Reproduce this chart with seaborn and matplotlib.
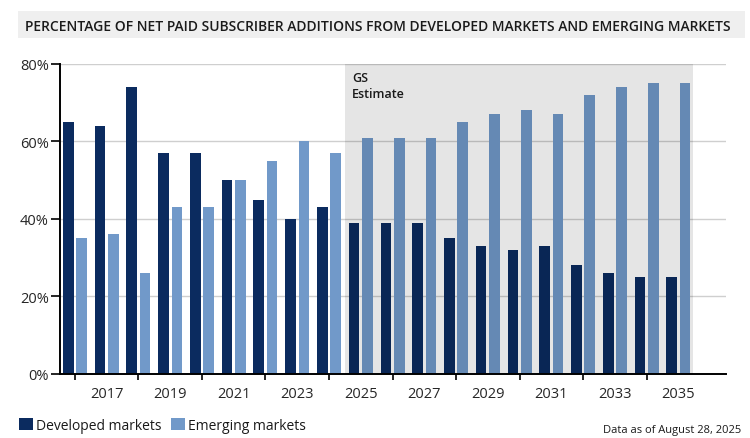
import numpy as np
import pandas as pd
import seaborn as sns
import matplotlib.pyplot as plt
from matplotlib.patches import Rectangle

# ── Data ───────────────────────────────────────────────────────────
years = [str(y) for y in range(2016, 2036)]
developed = [65, 64, 74, 57, 57, 50, 45, 40, 43, 39, 39, 39, 35, 33, 32, 33, 28, 26, 25, 25]
emerging = [35, 36, 26, 43, 43, 50, 55, 60, 57, 61, 61, 61, 65, 67, 68, 67, 72, 74, 75, 75]
series_names = ['Developed markets', 'Emerging markets']
estimate_start = '2025'

df = pd.DataFrame({
    'year': years * 2,
    'market': [series_names[0]] * len(years) + [series_names[1]] * len(years),
    'share': developed + emerging,
})

DARK = '#0b2b5f'
LIGHT = '#7199c9'

sns.set_theme(style='white')
plt.rcParams['font.family'] = ['Open Sans', 'DejaVu Sans']
plt.rcParams['text.color'] = '#1a1a1a'

fig = plt.figure(figsize=(7.5, 4.39), dpi=100)
ax = fig.add_axes([0.08, 0.1458, 0.888, 0.7062])

sns.barplot(data=df, x='year', y='share', hue='market', order=years,
            palette=[DARK, LIGHT], width=0.84, gap=0.2, saturation=1,
            linewidth=0, ax=ax, zorder=2)

# ── Estimate shading ───────────────────────────────────────────────
x0 = years.index(estimate_start) - 0.5
ax.axvspan(x0, len(years) - 0.53, color='black', alpha=0.1, lw=0, zorder=3)
ax.text(x0 + 0.22, 78.3, 'GS\nEstimate', fontsize=9, fontweight='semibold',
        va='top', ha='left', linespacing=1.3, zorder=4)

# ── Axes styling ───────────────────────────────────────────────────
ax.set_xlim(-0.47, 20.5)
ax.set_ylim(0, 80)
ax.set_yticks([0, 20, 40, 60, 80])
ax.set_yticklabels([f'{v}%' for v in [0, 20, 40, 60, 80]])
ax.yaxis.grid(True, color='#cfcfcf', lw=1, zorder=0)
ax.set_axisbelow(True)

major = list(range(0, len(years), 2))
minor = list(range(1, len(years), 2))
ax.set_xticks(major)
ax.set_xticklabels([''] * len(major))
ax.set_xticks(minor, minor=True)
ax.set_xticklabels([years[i] for i in minor], minor=True)
ax.tick_params(axis='x', which='major', length=4.5, width=1.2, color='black', direction='out', bottom=True)
ax.tick_params(axis='x', which='minor', length=0, pad=8.5, labelsize=10.5)
ax.tick_params(axis='y', length=6.5, width=1.2, color='black', pad=1.5, labelsize=10.5, left=True)
ax.set_xlabel('')
ax.set_ylabel('')

sns.despine(ax=ax)
for side in ['left', 'bottom']:
    ax.spines[side].set_color('black')
    ax.spines[side].set_linewidth(1.4)
    ax.spines[side].set_zorder(5)

# ── Legend ─────────────────────────────────────────────────────────
sns.move_legend(ax, 'center left', bbox_to_anchor=(0.025, 0.0296),
                bbox_transform=fig.transFigure, ncol=2, frameon=False,
                title=None, fontsize=10, handlelength=1.0, handleheight=1.0,
                handletextpad=0.25, columnspacing=0.65, borderpad=0,
                borderaxespad=0)

# ── Title band and footnote ────────────────────────────────────────
fig.patches.append(Rectangle((0.024, 0.9112), 0.969, 0.0615, transform=fig.transFigure,
                             facecolor='#efefef', edgecolor='none', zorder=0))
fig.text(0.0333, 0.9396,
         'PERCENTAGE OF NET PAID SUBSCRIBER ADDITIONS FROM DEVELOPED MARKETS AND EMERGING MARKETS',
         fontsize=10.0, fontweight='semibold', va='center', ha='left')
fig.text(0.988, 0.0205, 'Data as of August 28, 2025', fontsize=8, ha='right', va='center')

plt.savefig('out.png', dpi=100)
plt.close()
